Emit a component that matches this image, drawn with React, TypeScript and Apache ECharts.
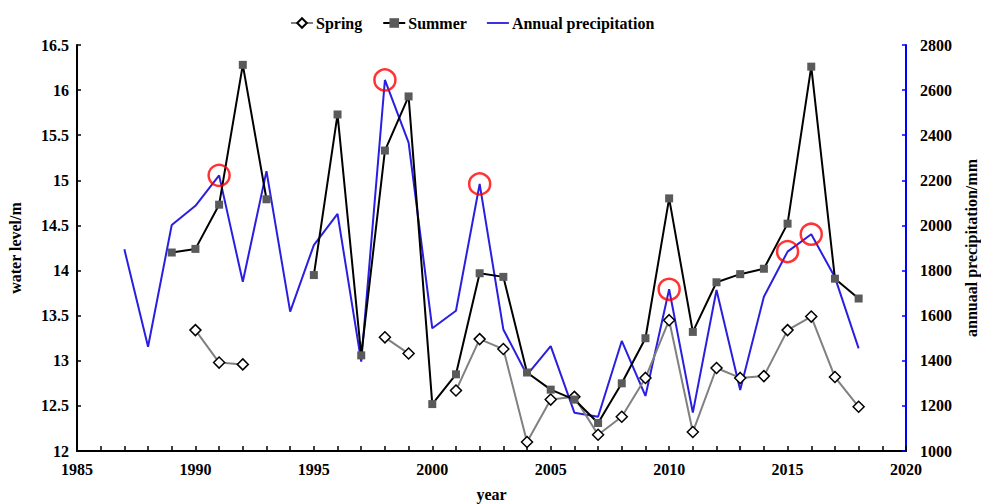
import React, { useEffect, useRef } from "react";
import * as echarts from "echarts";

const years = [1987, 1988, 1989, 1990, 1991, 1992, 1993, 1994, 1995, 1996, 1997, 1998, 1999, 2000, 2001, 2002, 2003, 2004, 2005, 2006, 2007, 2008, 2009, 2010, 2011, 2012, 2013, 2014, 2015, 2016, 2017, 2018];

const spring: (number | null)[] = [null, null, null, 13.34, 12.98, 12.96, null, null, null, null, null, 13.26, 13.08, null, 12.67, 13.24, 13.13, 12.10, 12.57, 12.60, 12.18, 12.38, 12.81, 13.45, 12.21, 12.92, 12.81, 12.83, 13.34, 13.49, 12.82, 12.49];

const summer: (number | null)[] = [null, null, 14.20, 14.24, 14.73, 16.28, 14.79, null, 13.95, 15.73, 13.06, 15.33, 15.93, 12.52, 12.85, 13.97, 13.93, 12.87, 12.68, 12.57, 12.31, 12.75, 13.25, 14.80, 13.32, 13.87, 13.96, 14.02, 14.52, 16.26, 13.91, 13.69];

const precipitation: number[] = [1894, 1462, 2002, 2087, 2222, 1750, 2241, 1618, 1913, 2051, 1396, 2645, 2367, 1544, 1622, 2184, 1539, 1337, 1465, 1170, 1152, 1488, 1244, 1717, 1170, 1714, 1270, 1684, 1884, 1961, 1770, 1455];

const highlightYears = [1991, 1998, 2002, 2010, 2015, 2016];

const seriesNames = ["Spring", "Summer", "Annual precipitation"];

const FONT = "Liberation Serif";

export default function App() {
  const ref = useRef<HTMLDivElement>(null);
  useEffect(() => {
    if (!ref.current) return;
    const chart = echarts.init(ref.current, undefined, { renderer: "svg" });
    const toData = (arr: (number | null)[]) => years.map((y, i) => [y, arr[i] == null ? "-" : arr[i]]);
    const circleData = highlightYears.map((y) => [y, precipitation[years.indexOf(y)]]);
    const labelStyle = { fontFamily: FONT, fontWeight: "bold" as const, fontSize: 16, color: "#000" };
    const plain = (v: number) => String(v);
    chart.setOption({
      animation: false,
      textStyle: { fontFamily: FONT },
      legend: {
        data: [
          { name: seriesNames[0] },
          { name: seriesNames[1] },
          { name: seriesNames[2], icon: "path://M0,0 L24,0 L24,2 L0,2 Z" },
        ],
        left: 285,
        top: 10,
        itemWidth: 22,
        itemHeight: 12,
        itemGap: 20,
        textStyle: { fontFamily: FONT, fontWeight: "bold", fontSize: 16, color: "#000", padding: [0, 0, 0, -2] },
      },
      grid: { left: 77, right: 75, top: 45, bottom: 53, outerBoundsMode: "none", containLabel: false },
      xAxis: {
        type: "value",
        min: 1985,
        max: 2020,
        interval: 5,
        name: "year",
        nameLocation: "middle",
        nameGap: 35,
        nameTextStyle: labelStyle,
        axisLine: { lineStyle: { color: "#000", width: 2 } },
        axisTick: { inside: true, length: 5, lineStyle: { color: "#000", width: 1.5 } },
        minorTick: { show: true, splitNumber: 5, length: 5, lineStyle: { color: "#000", width: 1.5 } },
        axisLabel: { ...labelStyle, margin: 10, formatter: plain },
        splitLine: { show: false },
      },
      yAxis: [
        {
          type: "value",
          min: 12,
          max: 16.5,
          interval: 0.5,
          name: "water level/m",
          nameLocation: "middle",
          nameRotate: 90,
          nameGap: 54,
          nameTextStyle: labelStyle,
          axisLine: { show: true, lineStyle: { color: "#000", width: 2 } },
          axisTick: { show: true, inside: true, length: 4, lineStyle: { color: "#000", width: 1.5 } },
          axisLabel: { ...labelStyle, margin: 8, formatter: plain },
          splitLine: { show: false },
        },
        {
          type: "value",
          min: 1000,
          max: 2800,
          interval: 200,
          position: "right",
          name: "annuaal precipitation/mm",
          nameLocation: "middle",
          nameRotate: 90,
          nameGap: 57,
          nameTextStyle: labelStyle,
          axisLine: { show: true, lineStyle: { color: "#0000ff", width: 2 } },
          axisTick: { show: true, inside: true, length: 4, lineStyle: { color: "#0000ff", width: 1.5 } },
          axisLabel: { ...labelStyle, margin: 14, formatter: plain },
          splitLine: { show: false },
        },
      ],
      series: [
        {
          name: "Spring",
          type: "line",
          data: toData(spring),
          symbol: "diamond",
          symbolSize: 11,
          connectNulls: false,
          lineStyle: { color: "#808080", width: 2 },
          itemStyle: { color: "#fff", borderColor: "#000", borderWidth: 1.5 },
          z: 3,
        },
        {
          name: "Summer",
          type: "line",
          data: toData(summer),
          symbol: "rect",
          symbolSize: 8,
          connectNulls: false,
          lineStyle: { color: "#000", width: 2 },
          itemStyle: { color: "#5a5a5a" },
          z: 4,
        },
        {
          name: "Annual precipitation",
          type: "line",
          yAxisIndex: 1,
          data: years.map((y, i) => [y, precipitation[i]]),
          symbol: "none",
          lineStyle: { color: "#2a1fe0", width: 2 },
          itemStyle: { color: "#2a1fe0" },
          z: 2,
        },
        {
          name: "highlight",
          type: "scatter",
          yAxisIndex: 1,
          data: circleData,
          symbol: "circle",
          symbolSize: 21,
          itemStyle: { color: "rgba(0,0,0,0)", borderColor: "#ff0000", borderWidth: 2.5 },
          z: 5,
        },
      ],
    });
    return () => chart.dispose();
  }, []);
  return <div ref={ref} style={{ width: 981, height: 504, position: "absolute", left: 0, top: 0 }} />;
}
